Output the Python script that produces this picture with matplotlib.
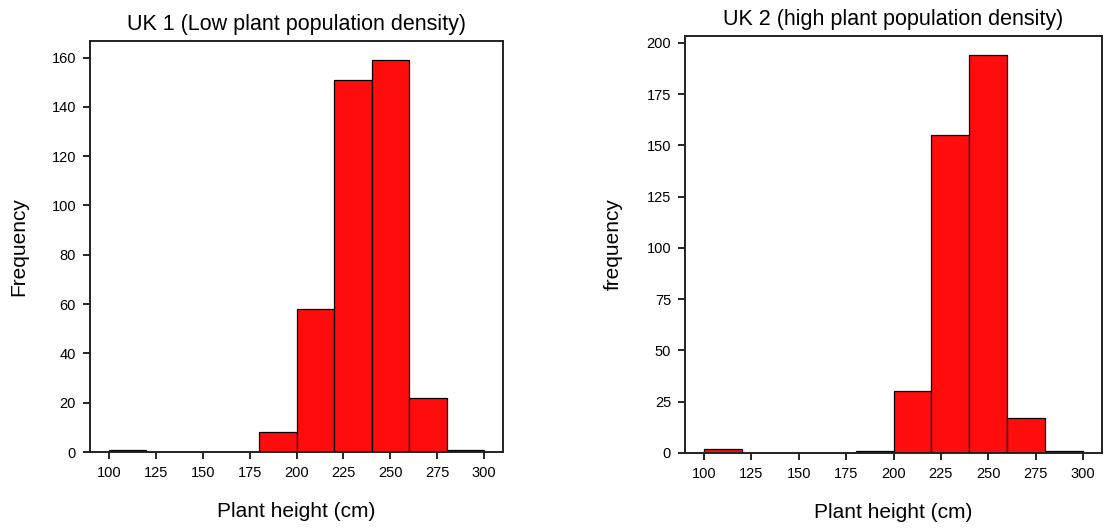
import matplotlib
matplotlib.use("Agg")
import matplotlib.pyplot as plt
import numpy as np

plt.rcParams['font.family'] = ['Liberation Sans', 'DejaVu Sans']

bin_edges = [100, 120, 140, 160, 180, 200, 220, 240, 260, 280, 300]
uk1_counts = [1, 0, 0, 0, 8, 58, 151, 159, 22, 1]
uk2_counts = [2, 0, 0, 0, 1, 30, 155, 194, 17, 1]
x_ticks = [100, 125, 150, 175, 200, 225, 250, 275, 300]
uk1_yticks = [0, 20, 40, 60, 80, 100, 120, 140, 160]
uk2_yticks = [0, 25, 50, 75, 100, 125, 150, 175, 200]

W, H = 1105, 529
fig = plt.figure(figsize=(W / 100, H / 100), dpi=100)

def px_axes(x0, y0, x1, y1):
    return fig.add_axes([x0 / W, 1 - y1 / H, (x1 - x0) / W, (y1 - y0) / H])

ax1 = px_axes(90, 41, 503, 452)
ax2 = px_axes(685, 36, 1102, 453)

def draw(ax, counts, yticks, ylim, title, ylabel):
    edges = np.array(bin_edges)
    ax.bar(edges[:-1], counts, width=np.diff(edges), align='edge',
           color='#FF0D0D', edgecolor='black', linewidth=0.9)
    ax.set_xlim(90, 310)
    ax.set_ylim(*ylim)
    ax.set_xticks(x_ticks)
    ax.set_yticks(yticks)
    ax.tick_params(axis='both', direction='out', length=5, width=1.2,
                   labelsize=10.5, colors='black', pad=5)
    for s in ax.spines.values():
        s.set_linewidth(1.4)
        s.set_color('#222222')
    ax.set_title(title, fontsize=15.5, pad=8)
    ax.set_xlabel('Plant height (cm)', fontsize=15, labelpad=16)
    ax.set_ylabel(ylabel, fontsize=15, labelpad=17)

draw(ax1, uk1_counts, uk1_yticks, (0, 166.7), 'UK 1 (Low plant population density)', 'Frequency')
draw(ax2, uk2_counts, uk2_yticks, (0, 203.4), 'UK 2 (high plant population density)', 'frequency')

fig.savefig('out.png', dpi=100)
